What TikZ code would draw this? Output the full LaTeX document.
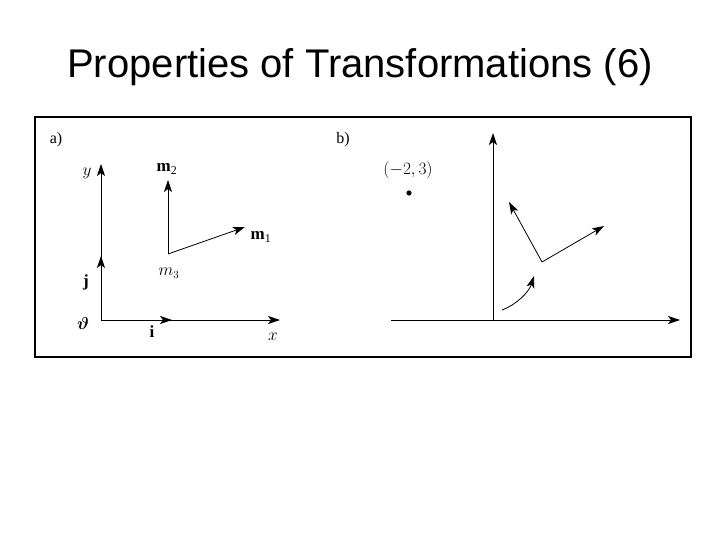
\documentclass[tikz,border=0pt]{standalone}
\usepackage{amsmath,bm}
\usepackage{fontspec}
\setmainfont{Liberation Serif}
\newfontfamily\titlefont{Liberation Sans}
\usetikzlibrary{arrows.meta}
\begin{document}
\begin{tikzpicture}[x=1pt,y=-1pt,
  vec/.style={line width=0.8pt,-{Stealth[length=12pt,width=8pt,inset=3pt]}},
  lbl/.style={inner sep=0pt,font=\fontsize{16}{18}\selectfont},
  mlbl/.style={inner sep=0pt,font=\fontsize{17}{19}\selectfont}]
\useasboundingbox (0,0) rectangle (720,540);
\node[font=\titlefont\fontsize{40}{46}\selectfont,inner sep=0pt,anchor=base] (title) at (360,78) {Properties of Transformations (6)};
\draw[line width=1.6pt] (35,117) rectangle (691,357);
% panel a
\node[lbl] (la) at (56,140) {a)};
\coordinate (O) at (101,320);
\coordinate (ya) at (101,164);
\coordinate (xa) at (280,320);
\coordinate (jt) at (101,256);
\coordinate (it) at (172,320);
\draw[vec] (O) -- (ya);
\draw[vec] (O) -- (xa);
\draw[vec] (O) -- (jt);
\draw[vec] (O) -- (it);
\node[lbl] (ly) at (87,173) {$y$};
\node[lbl] (lx) at (273,337) {$x$};
\node[mlbl] (li) at (152,332) {\textbf{i}};
\node[mlbl] (lj) at (86,282) {\textbf{j}};
\node[mlbl] (lo) at (83,323) {$\bm{\vartheta}$};
\coordinate (m3) at (168,254);
\coordinate (m2t) at (168,180);
\coordinate (m1t) at (245,227);
\draw[vec] (m3) -- (m2t);
\draw[vec] (m3) -- (m1t);
\node[mlbl] (lm2) at (167,169) {\textbf{m}\textsubscript{2}};
\node[mlbl] (lm1) at (261,237) {\textbf{m}\textsubscript{1}};
\node[lbl] (lm3) at (169,273) {$m_3$};
% panel b
\node[lbl] (lb) at (343,140) {b)};
\coordinate (Ob) at (493,320);
\coordinate (ybt) at (493,133);
\coordinate (xbl) at (391,320);
\coordinate (xbt) at (680,320);
\draw[vec] (Ob) -- (ybt);
\draw[vec] (xbl) -- (xbt);
\node[lbl] (pt) at (408,170) {$(-2,3)$};
\fill (409,193) circle (2.6pt) coordinate (dot);
\coordinate (c) at (542,262);
\coordinate (ct1) at (509,202);
\coordinate (ct2) at (604,226);
\draw[vec] (c) -- (ct1);
\draw[vec] (c) -- (ct2);
\coordinate (cs) at (502,310);
\coordinate (ce) at (534,276);
\draw[vec] (cs) .. controls (516,305) and (529,292) .. (ce);
\end{tikzpicture}
\end{document}
